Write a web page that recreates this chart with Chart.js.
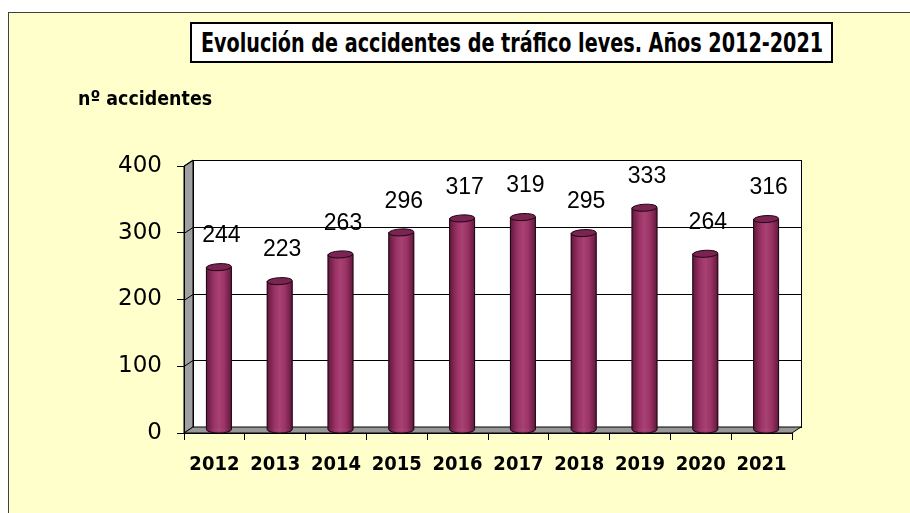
<!DOCTYPE html>
<html>
<head>
<meta charset="utf-8">
<script src="https://cdn.jsdelivr.net/npm/chart.js@4/dist/chart.umd.min.js"></script>
<style>
  html, body { margin:0; padding:0; background:#fff; }
  #page { position:relative; width:910px; height:513px; overflow:hidden; }
  #panel { position:absolute; left:8px; top:12px; width:910px; height:520px;
           background:#ffffcc; border-left:1px solid #404040; border-top:1px solid #404040; }
  #chartBox { position:absolute; left:0; top:0; width:910px; height:513px; }
  #title { position:absolute; left:190px; top:22px; width:639px; height:37px;
           background:#fff; border:2px solid #000; color:#000; overflow:hidden; }
  #title span { position:absolute; left:50%; top:50%; white-space:nowrap;
                font:bold 26px 'DejaVu Sans Condensed', 'DejaVu Sans';
                transform:translate(-50%, -50%) scaleX(0.82); }
  #yTitle { position:absolute; left:78px; top:86px; transform-origin:0 0; transform:scaleX(0.97);
            font:bold 20px 'DejaVu Sans Condensed', 'DejaVu Sans'; color:#000; white-space:nowrap; }
</style>
</head>
<body>
<div id="page">
  <div id="panel"></div>
  <div id="chartBox"><canvas id="chart" width="910" height="513"></canvas></div>
  <div id="title"><span>Evolución de accidentes de tráfico leves. Años 2012-2021</span></div>
  <div id="yTitle">nº accidentes</div>
</div>
<script>
// ── Datos ────────────────────────────────────────────────
const years     = ['2012','2013','2014','2015','2016','2017','2018','2019','2020','2021'];
const accidents = [244, 223, 263, 296, 317, 319, 295, 333, 264, 316];
const yTicks    = [0, 100, 200, 300, 400];

// profundidad del efecto 3D
const DX = 9, DY = -6;

// ── Paredes, suelo y rejilla en 3D ───────────────────────
const wallPlugin = {
  id: 'wall3d',
  beforeDraw(chart) {
    const { ctx, chartArea: a, scales: { y } } = chart;
    ctx.save();
    ctx.lineWidth = 1;
    ctx.strokeStyle = '#000';
    // pared del fondo
    ctx.fillStyle = '#fff';
    ctx.fillRect(a.left + DX, a.top + DY, a.right - a.left, a.bottom - a.top);
    // pared izquierda
    ctx.fillStyle = '#a0a0a0';
    ctx.beginPath();
    ctx.moveTo(a.left, a.top); ctx.lineTo(a.left + DX, a.top + DY);
    ctx.lineTo(a.left + DX, a.bottom + DY); ctx.lineTo(a.left, a.bottom);
    ctx.closePath(); ctx.fill(); ctx.stroke();
    // rejilla
    yTicks.forEach(v => {
      const py = Math.round(y.getPixelForValue(v)) + 0.5;
      ctx.beginPath();
      ctx.moveTo(a.left, py); ctx.lineTo(a.left + DX, py + DY);
      ctx.lineTo(a.right + DX, py + DY);
      ctx.stroke();
    });
    // borde pared fondo
    ctx.strokeRect(a.left + DX + 0.5, a.top + DY + 0.5, a.right - a.left, a.bottom - a.top);
    // suelo
    ctx.fillStyle = '#989898';
    ctx.beginPath();
    ctx.moveTo(a.left, a.bottom); ctx.lineTo(a.right, a.bottom);
    ctx.lineTo(a.right + DX, a.bottom + DY); ctx.lineTo(a.left + DX, a.bottom + DY);
    ctx.closePath(); ctx.fill(); ctx.stroke();
    ctx.restore();
  }
};

// ── Cilindros + etiquetas ────────────────────────────────
const cylPlugin = {
  id: 'cylinders',
  beforeDatasetsDraw(chart) {
    chart.ctx.save();
    chart.ctx.translate(DX / 2, DY / 2);
  },
  afterDatasetsDraw(chart) {
    const ctx = chart.ctx;
    const meta = chart.getDatasetMeta(0);
    meta.data.forEach(el => {
      const w = el.width, x0 = el.x - w / 2, x1 = el.x + w / 2;
      const ry = 3.5, rx = w / 2;
      // base redondeada
      ctx.fillStyle = '#a2366b';
      ctx.beginPath();
      ctx.ellipse(el.x, el.base, rx, ry, 0, 0, Math.PI);
      ctx.fill();
      // sombreado
      const g = ctx.createLinearGradient(x0, 0, x1, 0);
      g.addColorStop(0, 'rgba(40,0,20,0.55)');
      g.addColorStop(0.3, 'rgba(40,0,20,0.05)');
      g.addColorStop(0.5, 'rgba(255,255,255,0.06)');
      g.addColorStop(0.72, 'rgba(40,0,20,0.05)');
      g.addColorStop(1, 'rgba(40,0,20,0.55)');
      ctx.fillStyle = g;
      ctx.beginPath();
      ctx.moveTo(x0, el.y);
      ctx.lineTo(x0, el.base);
      ctx.ellipse(el.x, el.base, rx, ry, 0, Math.PI, 0, true);
      ctx.lineTo(x1, el.y);
      ctx.closePath();
      ctx.fill();
      // contorno
      ctx.strokeStyle = '#1e0512';
      ctx.lineWidth = 1;
      ctx.beginPath();
      ctx.moveTo(x0, el.y); ctx.lineTo(x0, el.base);
      ctx.ellipse(el.x, el.base, rx, ry, 0, Math.PI, 0, true);
      ctx.lineTo(x1, el.y);
      ctx.stroke();
      // tapa
      ctx.fillStyle = '#7a2452';
      ctx.beginPath();
      ctx.ellipse(el.x, el.y, rx, ry, -0.05, 0, Math.PI * 2);
      ctx.fill(); ctx.stroke();
    });
    ctx.restore();

    // etiquetas de valor
    ctx.save();
    ctx.fillStyle = '#000';
    ctx.font = "23px 'Liberation Sans', Arial, sans-serif";
    ctx.textAlign = 'center';
    ctx.textBaseline = 'middle';
    meta.data.forEach((el, i) => {
      ctx.fillText(String(accidents[i]), el.x + 7, el.y - 34);
    });
    ctx.restore();
  }
};

new Chart(document.getElementById('chart'), {
  type: 'bar',
  data: {
    labels: years,
    datasets: [{
      data: accidents,
      backgroundColor: '#a2366b',
      borderWidth: 0,
      barThickness: 25,
    }]
  },
  options: {
    responsive: false,
    animation: false,
    layout: { padding: { top: 166, right: 118, bottom: 0, left: 0 } },
    plugins: { legend: { display: false }, tooltip: { enabled: false }, title: { display: false } },
    scales: {
      y: {
        min: 0, max: 400,
        afterFit: s => { s.width = 184; },
        afterBuildTicks: s => { s.ticks = yTicks.map(v => ({ value: v })); },
        border: { color: '#000', width: 1 },
        grid: { drawOnChartArea: false, color: '#000', tickLength: 7 },
        ticks: { color: '#000', padding: 15, font: { family: "'DejaVu Sans'", size: 23 } }
      },
      x: {
        afterFit: s => { s.height = 80; },
        border: { color: '#000', width: 1 },
        grid: { drawOnChartArea: false, color: '#000', tickLength: 7, offset: true },
        ticks: { color: '#000', padding: 13, font: { family: "'DejaVu Sans Condensed'", weight: 'bold', size: 20 } }
      }
    }
  },
  plugins: [wallPlugin, cylPlugin]
});
</script>
</body>
</html>
